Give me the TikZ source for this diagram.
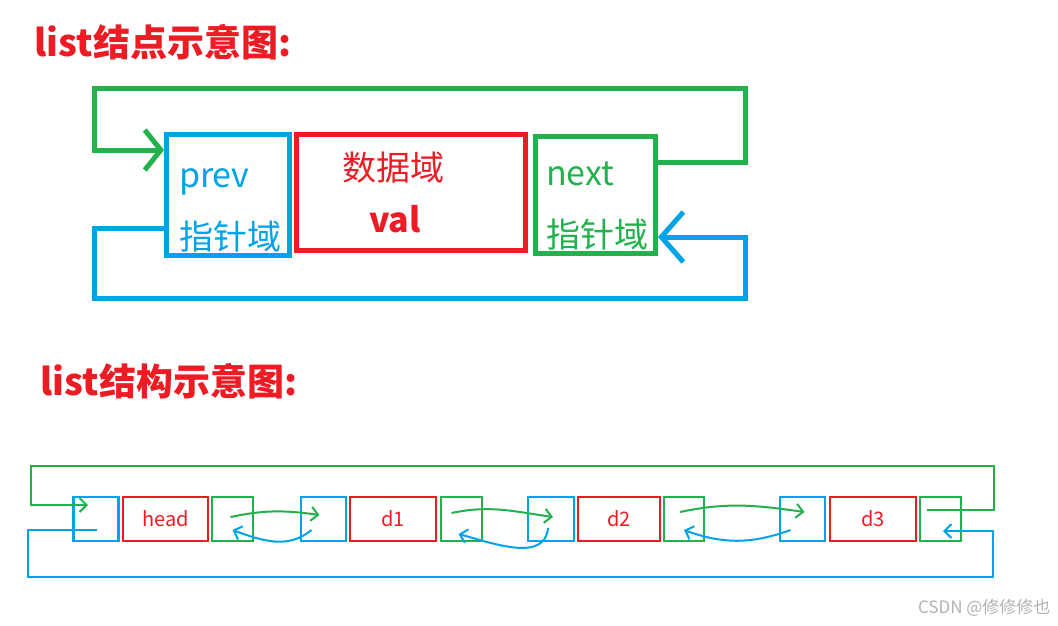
\documentclass[tikz,border=0pt]{standalone}
\usepackage{fontspec}
\setmainfont{Noto Sans CJK SC}
\usetikzlibrary{arrows.meta, positioning}

\definecolor{pred}{HTML}{ED1C24}
\definecolor{pblue}{HTML}{00A2E8}
\definecolor{pgreen}{HTML}{22B14C}

\begin{document}
\begin{tikzpicture}[
    x=1pt, y=1pt,
    title/.style={anchor=west, text=pred, font=\fontsize{37}{40}\selectfont\bfseries},
    bigbox/.style={rectangle, draw, line width=5pt, inner sep=0pt, align=left},
    smallbox/.style={rectangle, draw, line width=2.5pt, inner sep=0pt,
        minimum height=44, font=\fontsize{20}{24}\selectfont, text=pred},
    bigarrow/.style={-{Straight Barb[length=16pt,width=40pt]}, line width=5pt},
    arrow/.style={-{Straight Barb[length=7pt,width=14pt]}, line width=2pt},
]
\useasboundingbox (0,0) rectangle (1058,-625);

% Titel
\node[title] (t1) at (31,-42)  {list结点示意图:};
\node[title] (t2) at (37,-381) {list结构示意图:};

% Knoten
\node[bigbox, draw=pblue, text=pblue, minimum width=123, minimum height=121,
      font=\fontsize{34}{62}\selectfont] (prev) at (228,-195)
      {\rule{0pt}{50pt}\hspace*{4pt}prev\\\hspace*{4pt}指针域};
\node[bigbox, draw=pred, text=pred, minimum width=229, minimum height=116,
      align=center, font=\fontsize{34}{52}\selectfont] (data) at (411,-192.5)
      {数据域\hspace*{36pt}\\\textbf{val}\hspace*{32pt}};
\node[bigbox, draw=pgreen, text=pgreen, minimum width=120, minimum height=117,
      font=\fontsize{34}{62}\selectfont] (next) at (595.5,-195)
      {\rule{0pt}{46pt}\hspace*{3pt}next\\\hspace*{3pt}指针域};

% next -> prev
\draw[bigarrow, pgreen] ([yshift=33]next.east) -- ++(87,0) -- ++(0,74)
    -- ++(-651,0) -- ++(0,-62) -- ([yshift=45]prev.west);

% prev -> next
\draw[-{Straight Barb[length=22pt,width=50pt]}, line width=5pt, pblue]
    ([yshift=-33]prev.west) -- ++(-70,0) -- ++(0,-70)
    -- ++(651,0) -- ++(0,61) -- ([yshift=-42]next.east);

% Liste
\node[smallbox, draw=pblue,  minimum width=45] (hp) at (96,-519)    {};
\node[smallbox, draw=pred,   minimum width=85] (hd) at (165.5,-519) {head};
\node[smallbox, draw=pgreen, minimum width=41] (hn) at (232.5,-519) {};

\node[smallbox, draw=pblue,  minimum width=45] (p1) at (323.5,-519) {};
\node[smallbox, draw=pred,   minimum width=86] (v1) at (393,-519)   {d1};
\node[smallbox, draw=pgreen, minimum width=41] (n1) at (461.5,-519) {};

\node[smallbox, draw=pblue,  minimum width=46] (p2) at (551,-519)   {};
\node[smallbox, draw=pred,   minimum width=82] (v2) at (619,-519)   {d2};
\node[smallbox, draw=pgreen, minimum width=40] (n2) at (684,-519)   {};

\node[smallbox, draw=pblue,  minimum width=45] (p3) at (802.5,-519) {};
\node[smallbox, draw=pred,   minimum width=86] (v3) at (873,-519)   {d3};
\node[smallbox, draw=pgreen, minimum width=41] (n3) at (940.5,-519) {};

% next-Zeiger
\draw[arrow, pgreen] ([xshift=-2,yshift=2]hn.center) to[out=12,in=172]
    ([xshift=-4,yshift=4]p1.center);
\draw[arrow, pgreen] ([xshift=-10,yshift=6]n1.center) to[out=12,in=172]
    ([xshift=2,yshift=2]p2.center);
\draw[arrow, pgreen] ([xshift=-4,yshift=7]n2.center) to[out=12,in=172]
    ([xshift=2,yshift=7]p3.center);

% prev-Zeiger
\draw[arrow, pblue] ([xshift=-12,yshift=-11]p1.center) to[out=-140,in=-20]
    ([xshift=0,yshift=-11]hn.center);
\draw[arrow, pblue] ([xshift=-3,yshift=-9]p2.center) to[out=-95,in=-15]
    ([xshift=-3,yshift=-15]n1.center);
\draw[arrow, pblue] ([xshift=-12,yshift=-11]p3.center) to[out=-160,in=-20]
    ([xshift=0,yshift=-11]n2.center);

% d3 -> head
\draw[arrow, pgreen] ([xshift=-14,yshift=9]n3.center) -- ++(67,0) -- ++(0,44)
    -- ++(-963,0) -- ++(0,-39) -- ([xshift=-8,yshift=14]hp.center);

% head -> d3
\draw[arrow, pblue] ([xshift=1,yshift=-11]hp.center) -- ++(-69,0) -- ++(0,-47)
    -- ++(965,0) -- ++(0,46) -- ([xshift=2.5,yshift=-12]n3.center);

% Wasserzeichen
\node[anchor=east, text=black!30, font=\fontsize{17}{20}\selectfont] (wm)
    at (1054,-608) {CSDN @修修修也};
\end{tikzpicture}
\end{document}
